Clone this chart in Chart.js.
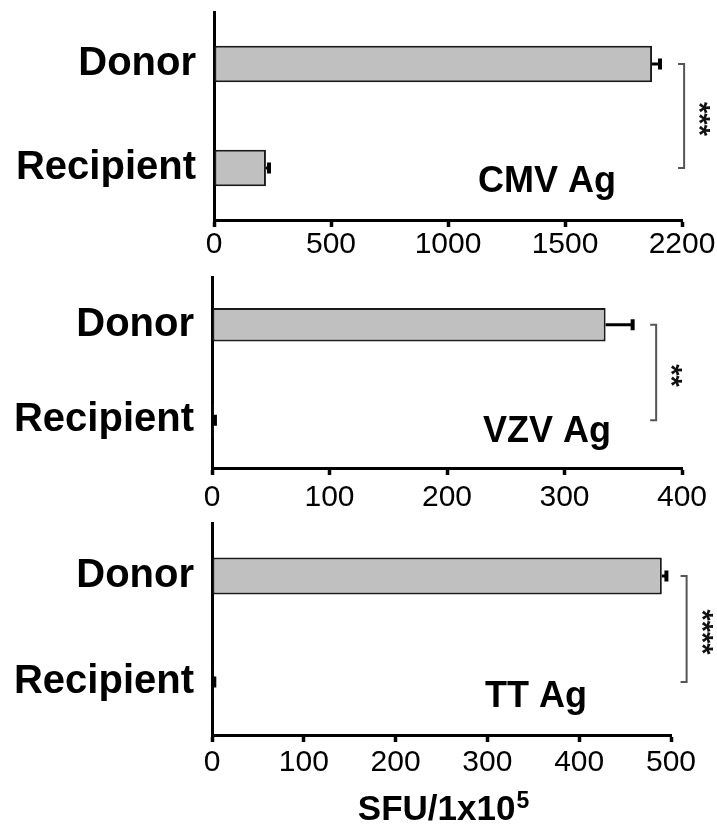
<!DOCTYPE html>
<html>
<head>
<meta charset="utf-8">
<script src="https://cdn.jsdelivr.net/npm/chart.js@4/dist/chart.umd.min.js"></script>
<style>
  html, body { margin: 0; padding: 0; background: #fff; }
  #wrap { position: relative; width: 717px; height: 836px; }
  canvas { position: absolute; left: 0; }
</style>
</head>
<body>
<div id="wrap">
  <canvas id="cmv" width="717" height="262" style="top:0px"></canvas>
  <canvas id="vzv" width="717" height="258" style="top:262px"></canvas>
  <canvas id="tt" width="717" height="316" style="top:520px"></canvas>
</div>
<script>
const groups = ["Donor", "Recipient"];

const cmvMeans = [1872, 222];
const cmvErrors = [34, 13];
const cmvTicks = [0, 500, 1000, 1500, 2000];
const cmvTickLabels = ["0", "500", "1000", "1500", "2200"];

const vzvMeans = [335, 1.5];
const vzvErrors = [23, 1];
const vzvTicks = [0, 100, 200, 300, 400];
const vzvTickLabels = ["0", "100", "200", "300", "400"];

const ttMeans = [490, 1.5];
const ttErrors = [5, 1];
const ttTicks = [0, 100, 200, 300, 400, 500];
const ttTickLabels = ["0", "100", "200", "300", "400", "500"];

const antigens = ["CMV Ag", "VZV Ag", "TT Ag"];
const signif = ["***", "**", "****"];
const axisTitle = "SFU/1x10";
const axisTitleSup = "5";

const fuente = "'Liberation Sans', Arial, Helvetica, sans-serif";

// barras de error, corchete, asteriscos y rotulo del antigeno
const extras = {
  id: "extras",
  afterDatasetsDraw(chart, args, opts) {
    const ctx = chart.ctx;
    const xs = chart.scales.x;
    const ys = chart.scales.y;
    ctx.save();
    // error bars (solo lado derecho)
    opts.means.forEach((m, i) => {
      const x0 = xs.getPixelForValue(m);
      const x1 = xs.getPixelForValue(m + opts.errors[i]);
      const y = ys.getPixelForValue(i);
      ctx.strokeStyle = "#000";
      ctx.lineWidth = 3;
      ctx.beginPath();
      ctx.moveTo(x0, y);
      ctx.lineTo(x1, y);
      ctx.stroke();
      ctx.lineWidth = 4;
      ctx.beginPath();
      ctx.moveTo(x1, y - 5.5);
      ctx.lineTo(x1, y + 5.5);
      ctx.stroke();
    });
    // corchete
    const bx = xs.getPixelForValue(opts.bracketAt);
    const yTop = ys.getPixelForValue(0);
    const yBot = ys.getPixelForValue(1);
    ctx.strokeStyle = "#555";
    ctx.lineWidth = 2;
    ctx.beginPath();
    ctx.moveTo(bx - 6, yTop);
    ctx.lineTo(bx, yTop);
    ctx.lineTo(bx, yBot);
    ctx.lineTo(bx - 6, yBot);
    ctx.stroke();
    // asteriscos girados
    ctx.save();
    ctx.translate(bx + 14, (yTop + yBot) / 2 + 3);
    ctx.rotate(Math.PI / 2);
    ctx.fillStyle = "#111";
    ctx.font = "bold 29px " + fuente;
    ctx.textAlign = "center";
    ctx.textBaseline = "middle";
    ctx.fillText(opts.stars, 0, 0);
    ctx.restore();
    // rotulo
    ctx.fillStyle = "#000";
    ctx.font = "bold 36px " + fuente;
    ctx.textAlign = "left";
    ctx.textBaseline = "alphabetic";
    ctx.fillText(opts.label, opts.labelX, opts.labelY);
    if (opts.title) {
      ctx.font = "bold 35px " + fuente;
      const w1 = ctx.measureText(opts.title).width;
      ctx.font = "bold 23px " + fuente;
      const w2 = ctx.measureText(opts.sup).width;
      const left = opts.titleX - (w1 + w2) / 2;
      ctx.font = "bold 35px " + fuente;
      ctx.fillText(opts.title, left, opts.titleY);
      ctx.font = "bold 23px " + fuente;
      ctx.fillText(opts.sup, left + w1 + 1, opts.titleY - 12);
    }
    ctx.restore();
  }
};

function sinRelleno(s) {
  s.paddingTop = 0;
  s.paddingBottom = 0;
  s.paddingLeft = 0;
  s.paddingRight = 0;
}

function crearPanel(id, p) {
  const config = {
    type: "bar",
    data: {
      labels: groups,
      datasets: [{
        data: p.means,
        backgroundColor: "#c0c0c0",
        borderColor: "#1a1a1a",
        borderWidth: 2,
        borderSkipped: false,
        barPercentage: 0.35,
        categoryPercentage: 1
      }]
    },
    options: {
      indexAxis: "y",
      responsive: false,
      animation: false,
      layout: { padding: { top: p.top, right: p.right, left: 0, bottom: 0 } },
      plugins: {
        legend: { display: false },
        tooltip: { enabled: false },
        extras: {
          means: p.means, errors: p.errors, bracketAt: p.bracketAt,
          stars: p.stars, label: p.label, labelX: p.labelX, labelY: p.labelY,
          title: p.title, sup: p.sup, titleX: p.titleX, titleY: p.titleY
        }
      },
      scales: {
        x: {
          min: 0,
          max: p.ticks[p.ticks.length - 1],
          afterBuildTicks: (s) => { s.ticks = p.ticks.map((v) => ({ value: v })); },
          afterFit: (s) => { s.height = p.xHeight; sinRelleno(s); },
          border: { display: true, color: "#000", width: 3 },
          grid: { display: true, drawOnChartArea: false, drawTicks: true, tickLength: 7, tickWidth: 3.5, tickColor: "#000" },
          ticks: {
            color: "#000",
            padding: p.tickPad,
            maxRotation: 0,
            autoSkip: false,
            font: { family: fuente, size: 30 },
            callback: (v, i) => p.tickLabels[i]
          }
        },
        y: {
          afterFit: (s) => { s.width = p.yWidth; sinRelleno(s); },
          border: { display: true, color: "#000", width: 3 },
          grid: { display: true, drawOnChartArea: false, drawTicks: false },
          ticks: {
            color: "#000",
            padding: 18,
            font: { family: fuente, size: 40, weight: "bold" }
          }
        }
      }
    },
    plugins: [extras]
  };
  return new Chart(document.getElementById(id), config);
}

crearPanel("cmv", {
  means: cmvMeans, errors: cmvErrors, ticks: cmvTicks, tickLabels: cmvTickLabels,
  top: 12, right: 35, yWidth: 214, xHeight: 42, tickPad: 0,
  bracketAt: 2009, stars: signif[0], label: antigens[0], labelX: 478, labelY: 192
});
crearPanel("vzv", {
  means: vzvMeans, errors: vzvErrors, ticks: vzvTicks, tickLabels: vzvTickLabels,
  top: 15, right: 35, yWidth: 212, xHeight: 52, tickPad: 5,
  bracketAt: 378, stars: signif[1], label: antigens[1], labelX: 483, labelY: 180
});
crearPanel("tt", {
  means: ttMeans, errors: ttErrors, ticks: ttTicks, tickLabels: ttTickLabels,
  top: 3, right: 46, yWidth: 212, xHeight: 101, tickPad: 3,
  bracketAt: 517, stars: signif[2], label: antigens[2], labelX: 485, labelY: 187,
  title: axisTitle, sup: axisTitleSup, titleX: 443, titleY: 300
});
</script>
</body>
</html>
